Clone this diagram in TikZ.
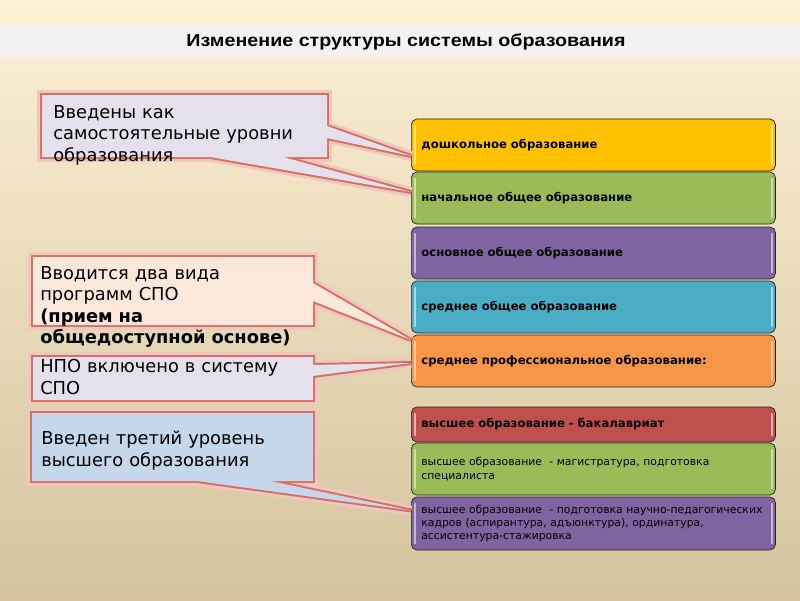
\documentclass[tikz,border=0pt]{standalone}
\usepackage{fontspec}
\setmainfont{DejaVu Sans}
\newfontfamily\titlefont{Liberation Sans}[FakeStretch=1.13]
\usetikzlibrary{calc}

\definecolor{bgtop}{HTML}{FDF0D4}
\definecolor{bgbot}{HTML}{D4C39E}
\definecolor{band}{HTML}{F2F2F2}
\definecolor{cGold}{HTML}{FFC000}
\definecolor{cGreen}{HTML}{9BBB59}
\definecolor{cPurple}{HTML}{8064A2}
\definecolor{cCyan}{HTML}{4BACC6}
\definecolor{cOrange}{HTML}{F79646}
\definecolor{cRed}{HTML}{C0504D}
\definecolor{callLav}{HTML}{E5E1EC}
\definecolor{callPeach}{HTML}{FCE8DA}
\definecolor{callBlue}{HTML}{C6D6EB}
\definecolor{glowRed}{HTML}{D2604E}

\begin{document}
\begin{tikzpicture}[x=0.025cm, y=-0.025cm,
  level/.style={draw=black!85, line width=0.5pt, rounded corners=4pt, anchor=west,
    minimum width=9.1cm, text width=8.6cm, inner xsep=0.25cm, inner ysep=0pt,
    align=left, font=\fontsize{8.3}{11}\selectfont\bfseries},
  levelsmall/.style={level, font=\fontsize{7.7}{9.5}\selectfont},
  gloss/.style={white, opacity=0.55, line width=1pt, line cap=round},
  callout/.style={preaction={draw=glowRed!35, line width=7pt},
    preaction={draw=glowRed!90, line width=2.8pt}},
  note/.style={anchor=north west, inner sep=0pt, text width=7cm, align=left,
    font=\fontsize{12.7}{15.3}\selectfont}]
  \useasboundingbox (0,0) rectangle (800,600);
  % Background and title band
  \shade[top color=bgtop, bottom color=bgbot] (0,0) rectangle (800,600);
  \fill[band] (0,25) rectangle (800,57);
  \node[font=\titlefont\fontsize{12.4}{14}\selectfont\bfseries] (title) at (406,42)
    {Изменение структуры системы образования};
  % Levels of education (right column)
  \foreach \n/\y/\c/\t in {pre/145/cGold/{дошкольное образование},
      nach/198/cGreen/{начальное общее образование},
      osn/253/cPurple/{основное общее образование},
      sred/307/cCyan/{среднее общее образование},
      spo/361/cOrange/{среднее профессиональное образование:}}
    \node[level, fill=\c, minimum height=1.3cm] (\n) at (411,\y) {\t};
  \node[level, fill=cRed, minimum height=0.875cm] (bak) at (411,424.5)
    {высшее образование - бакалавриат};
  \node[levelsmall, fill=cGreen, minimum height=1.3cm] (mag) at (411,469)
    {высшее образование~ - магистратура, подготовка\\ специалиста};
  \node[levelsmall, fill=cPurple, minimum height=1.325cm] (asp) at (411,523.5)
    {высшее образование~ - подготовка научно-педагогических\\
     кадров (аспирантура, адъюнктура), ординатура,\\ ассистентура-стажировка};
  \foreach \n in {pre,nach,osn,sred,spo,bak,mag,asp} {
    \draw[gloss] ($(\n.north west)+(4,7)$) -- ($(\n.south west)+(4,-7)$);
    \draw[gloss] ($(\n.north east)+(-4,7)$) -- ($(\n.south east)+(-4,-7)$);
  }
  % Callout: new independent levels
  \path[callout, fill=callLav] (42,95) rectangle (327,157)
    (327,126) -- ($(pre.west)+(0,11)$) -- (327,138) -- cycle
    (210,157) -- ($(nach.west)+(0,-6)$) -- (283,157) -- cycle;
  \node[note] (noteA) at (53,105) {Введены как\\ самостоятельные уровни\\ образования};
  % Callout: two kinds of SPO programmes
  \path[callout, fill=callPeach] (33,257) rectangle (313,325)
    (313,283) -- ($(spo.west)+(0,-21)$) -- (313,301) -- cycle;
  \node[note] (noteB) at (40,266) {Вводится два вида\\ программ СПО\\
    \textbf{(прием на}\\ \textbf{общедоступной основе)}};
  % Callout: NPO
  \path[callout, fill=callLav] (33,357) rectangle (313,400)
    (313,365) -- ($(spo.west)+(0,2)$) -- (313,376) -- cycle;
  \node[note] (noteC) at (40,359) {НПО включено в систему\\ СПО};
  % Callout: third level of higher education
  \path[callout, fill=callBlue] (32,413) rectangle (313,481)
    (197,481) -- ($(asp.west)+(0,-13)$) -- (270,481) -- cycle;
  \node[note] (noteD) at (41,431) {Введен третий уровень\\ высшего образования};
\end{tikzpicture}
\end{document}
